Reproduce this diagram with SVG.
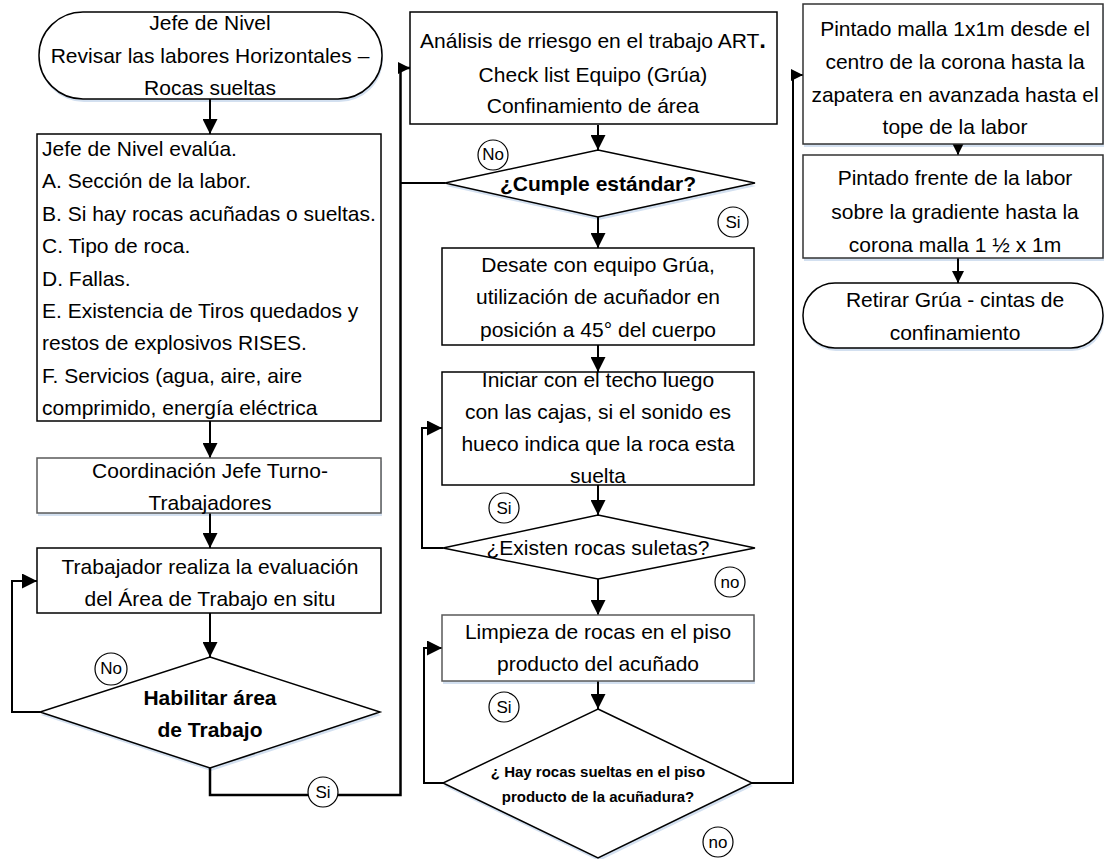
<svg xmlns="http://www.w3.org/2000/svg" width="1105" height="859" viewBox="0 0 1105 859">
  <style>
    .shape { fill: #ffffff; stroke: #000000; stroke-width: 1.5; }
    .shape.gray { stroke: #5a5a5a; }
    .shadow { fill: #d3e0f0; stroke: none; }
    .t { font-family: "Liberation Sans", Arial, sans-serif; font-size: 21px; fill: #000000; text-anchor: middle; }
    .tl { text-anchor: start; }
    .b { font-weight: bold; }
    .small { font-size: 15px; }
    .badge { fill: #ffffff; stroke: #000000; stroke-width: 1.2; }
    .bt { font-family: "Liberation Sans", Arial, sans-serif; font-size: 17px; fill: #000000; text-anchor: middle; }
    .conn { fill: none; stroke: #000000; stroke-width: 2; }
  </style>
  <defs>
    <marker id="ah" viewBox="0 0 10 10" refX="10" refY="5" markerWidth="15" markerHeight="15" markerUnits="userSpaceOnUse" orient="auto">
      <path d="M0,0 L10,5 L0,10 z" fill="#000000"/>
    </marker>
    <marker id="ahs" viewBox="0 0 10 10" refX="10" refY="5" markerWidth="12" markerHeight="12" markerUnits="userSpaceOnUse" orient="auto">
      <path d="M0,0 L10,5 L0,10 z" fill="#000000"/>
    </marker>
  </defs>

  <rect width="1105" height="859" fill="#ffffff"/>

  <!-- soft light-blue drop shadows under the shapes -->
  <g id="shadows" transform="translate(1,3)">
    <rect class="shadow" x="39" y="12" width="343" height="87" rx="44" ry="43"/>
    <rect class="shadow" x="37" y="458" width="344" height="55"/>
    <polygon class="shadow" points="210,657 380,712 210,768 40,712"/>
    <polygon class="shadow" points="598,150 755,183 598,217 445,183"/>
    <rect class="shadow" x="442" y="615" width="312" height="66"/>
    <polygon class="shadow" points="598,709 752,783 598,858 443,783"/>
    <rect class="shadow" x="803" y="4" width="300" height="140"/>
    <rect class="shadow" x="803" y="155" width="300" height="103"/>
    <rect class="shadow" x="803" y="283" width="300" height="65" rx="32" ry="32"/>
  </g>

  <!-- connectors -->
  <g id="connectors">
    <path class="conn" d="M210,99 V134" marker-end="url(#ah)"/>
    <path class="conn" d="M210,421 V458" marker-end="url(#ah)"/>
    <path class="conn" d="M210,513 V548" marker-end="url(#ah)"/>
    <path class="conn" d="M210,613 V657" marker-end="url(#ah)"/>
    <path class="conn" d="M40,712 H12 V581 H37" marker-end="url(#ah)"/>
    <path class="conn" d="M210,768 V795 H400.5 V68 H410" style="stroke-width:2.5" marker-end="url(#ahs)"/>
    <path class="conn" d="M445,183 H400.5"/>
    <path class="conn" d="M598,125 V150" marker-end="url(#ah)"/>
    <path class="conn" d="M598,217 V248" marker-end="url(#ah)"/>
    <path class="conn" d="M598,345 V372" marker-end="url(#ah)"/>
    <path class="conn" d="M598,485 V515" marker-end="url(#ah)"/>
    <path class="conn" d="M443,548 H422 V428 H442" marker-end="url(#ah)"/>
    <path class="conn" d="M598,579 V615" marker-end="url(#ah)"/>
    <path class="conn" d="M598,681 V709" marker-end="url(#ah)"/>
    <path class="conn" d="M443,783 H424 V648 H442" marker-end="url(#ah)"/>
    <path class="conn" d="M752,783 H793 V75 H803" marker-end="url(#ahs)"/>
    <path class="conn" d="M958,144 V155" marker-end="url(#ahs)"/>
    <path class="conn" d="M958,258 V283" marker-end="url(#ahs)"/>
  </g>

  <!-- column 1 -->
  <g id="n-inicio">
    <rect class="shape" x="39" y="12" width="343" height="87" rx="44" ry="43"/>
    <text class="t" x="210" y="30">Jefe de Nivel</text>
    <text class="t" x="210" y="63">Revisar las labores Horizontales –</text>
    <text class="t" x="210" y="95">Rocas sueltas</text>
  </g>
  <g id="n-evalua">
    <rect class="shape" x="37" y="134" width="344" height="287"/>
    <text class="t tl" x="42" y="156">Jefe de Nivel evalúa.</text>
    <text class="t tl" x="42" y="188.4">A. Sección de la labor.</text>
    <text class="t tl" x="42" y="220.8">B. Si hay rocas acuñadas o sueltas.</text>
    <text class="t tl" x="42" y="253.2">C. Tipo de roca.</text>
    <text class="t tl" x="42" y="285.6">D. Fallas.</text>
    <text class="t tl" x="42" y="318">E. Existencia de Tiros quedados y</text>
    <text class="t tl" x="42" y="350.4">restos de explosivos RISES.</text>
    <text class="t tl" x="42" y="382.8">F. Servicios (agua, aire, aire</text>
    <text class="t tl" x="42" y="415.2">comprimido, energía eléctrica</text>
  </g>
  <g id="n-coordinacion">
    <rect class="shape gray" x="37" y="458" width="344" height="55"/>
    <text class="t" x="210" y="478">Coordinación Jefe Turno-</text>
    <text class="t" x="210" y="510">Trabajadores</text>
  </g>
  <g id="n-trabajador">
    <rect class="shape" x="37" y="548" width="344" height="65"/>
    <text class="t" x="210" y="574">Trabajador realiza la evaluación</text>
    <text class="t" x="210" y="606">del Área de Trabajo en situ</text>
  </g>
  <g id="n-habilitar">
    <polygon class="shape" points="210,657 380,712 210,768 40,712"/>
    <text class="t b" x="210" y="705">Habilitar área</text>
    <text class="t b" x="210" y="737">de Trabajo</text>
  </g>

  <!-- column 2 -->
  <g id="n-art">
    <rect class="shape" x="410" y="12" width="367" height="112"/>
    <text class="t" x="593" y="48">Análisis de rriesgo en el trabajo ART<tspan class="b" font-size="24">.</tspan></text>
    <text class="t" x="593" y="82">Check list Equipo (Grúa)</text>
    <text class="t" x="593" y="113">Confinamiento de área</text>
  </g>
  <g id="n-cumple">
    <polygon class="shape" points="598,150 755,183 598,217 445,183"/>
    <text class="t b" x="598" y="191" font-size="20">¿Cumple estándar?</text>
  </g>
  <g id="n-desate">
    <rect class="shape" x="442" y="248" width="312" height="97"/>
    <text class="t" x="598" y="272">Desate con equipo Grúa,</text>
    <text class="t" x="598" y="304">utilización de acuñador en</text>
    <text class="t" x="598" y="337">posición a 45° del cuerpo</text>
  </g>
  <g id="n-iniciar">
    <rect class="shape" x="442" y="372" width="312" height="113"/>
    <text class="t" x="598" y="387">Iniciar con el techo luego</text>
    <text class="t" x="598" y="419">con las cajas, si el sonido es</text>
    <text class="t" x="598" y="451">hueco indica que la roca esta</text>
    <text class="t" x="598" y="483">suelta</text>
  </g>
  <g id="n-existen">
    <polygon class="shape" points="598,515 755,548 598,579 443,548"/>
    <text class="t" x="598" y="555">¿Existen rocas suletas?</text>
  </g>
  <g id="n-limpieza">
    <rect class="shape gray" x="442" y="615" width="312" height="66"/>
    <text class="t" x="598" y="639">Limpieza de rocas en el piso</text>
    <text class="t" x="598" y="671">producto del acuñado</text>
  </g>
  <g id="n-hay">
    <polygon class="shape" points="598,709 752,783 598,858 443,783"/>
    <text class="t b small" x="598" y="777">¿ Hay rocas sueltas en el piso</text>
    <text class="t b small" x="598" y="802">producto de la acuñadura?</text>
  </g>

  <!-- column 3 -->
  <g id="n-pintado-malla">
    <rect class="shape" x="803" y="4" width="300" height="140" style="stroke:#333333"/>
    <text class="t" x="955" y="36">Pintado malla 1x1m desde el</text>
    <text class="t" x="955" y="69">centro de la corona hasta la</text>
    <text class="t" x="955" y="102">zapatera en avanzada hasta el</text>
    <text class="t" x="955" y="134">tope de la labor</text>
  </g>
  <g id="n-pintado-frente">
    <rect class="shape" x="803" y="155" width="300" height="103" style="stroke:#333333"/>
    <text class="t" x="955" y="185">Pintado frente de la labor</text>
    <text class="t" x="955" y="219">sobre la gradiente hasta la</text>
    <text class="t" x="955" y="252">corona malla 1 ½  x 1m</text>
  </g>
  <g id="n-retirar">
    <rect class="shape" x="803" y="283" width="300" height="65" rx="32" ry="32"/>
    <text class="t" x="955" y="307">Retirar Grúa - cintas de</text>
    <text class="t" x="955" y="340">confinamiento</text>
  </g>

  <!-- branch labels -->
  <g id="labels">
    <circle class="badge" cx="111" cy="669" r="16"/>
    <text class="bt" x="111" y="674" font-size="14">No</text>
    <circle class="badge" cx="323" cy="792" r="15"/>
    <text class="bt" x="323" y="798">Si</text>
    <circle class="badge" cx="493" cy="155" r="15"/>
    <text class="bt" x="493" y="160" font-size="14">No</text>
    <circle class="badge" cx="733" cy="222" r="15"/>
    <text class="bt" x="733" y="228">Si</text>
    <circle class="badge" cx="504" cy="508" r="15"/>
    <text class="bt" x="504" y="514">Si</text>
    <circle class="badge" cx="730" cy="582" r="15"/>
    <text class="bt" x="730" y="588">no</text>
    <circle class="badge" cx="504" cy="707" r="15"/>
    <text class="bt" x="504" y="713">Si</text>
    <circle class="badge" cx="718" cy="842" r="15"/>
    <text class="bt" x="718" y="848">no</text>
  </g>
</svg>
